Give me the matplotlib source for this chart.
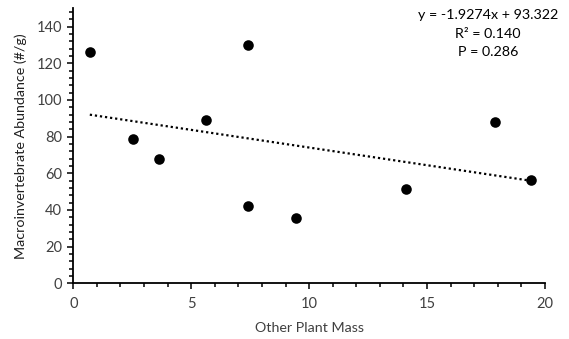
import matplotlib
matplotlib.use("Agg")
import matplotlib.pyplot as plt
import numpy as np
from matplotlib.ticker import MultipleLocator

plt.rcParams['font.family'] = ['Lato', 'DejaVu Sans']

x_vals = [0.70, 2.52, 3.63, 5.61, 7.42, 7.41, 9.43, 14.10, 17.90, 19.42]
y_vals = [126.4, 78.5, 67.6, 89.3, 130.2, 42.3, 35.8, 51.3, 88.0, 56.5]
slope = -1.9274
intercept = 93.322
eq_lines = ["y = -1.9274x + 93.322", "R² = 0.140", "P = 0.286"]
x_label = "Other Plant Mass"
y_label = "Macroinvertebrate Abundance (#/g)"

W, H = 569, 339
fig = plt.figure(figsize=(W/100, H/100), dpi=100)
ax = fig.add_axes([73.3/W, (H-283.3)/H, (545-73.3)/W, (283.3-8.3)/H])

ax.scatter(x_vals, y_vals, s=58, color='black', zorder=3, linewidths=0)
xs = np.array([min(x_vals), max(x_vals)])
ax.plot(xs, slope*xs + intercept, color='black', lw=1.6, linestyle=(0, (1, 1.3)), zorder=2)

ax.set_xlim(0, 20)
ax.set_ylim(0, 150)
ax.xaxis.set_major_locator(MultipleLocator(5))
ax.xaxis.set_minor_locator(MultipleLocator(1))
ax.set_yticks(np.arange(0, 141, 20))
ax.yaxis.set_minor_locator(MultipleLocator(4))
for s in ['top', 'right']:
    ax.spines[s].set_visible(False)
for s in ['left', 'bottom']:
    ax.spines[s].set_linewidth(1.3)
    ax.spines[s].set_color('black')
ax.tick_params(which='major', length=4, width=1.1, color='black', labelsize=10.5, labelcolor='#404040', direction='out')
ax.tick_params(which='minor', length=3, width=1.1, color='black', direction='out')
ax.tick_params(axis='x', pad=6)
ax.tick_params(axis='y', pad=4)

ax.set_xlabel(x_label, fontsize=10.3, color='#404040', labelpad=8)
ax.set_ylabel(y_label, fontsize=10.3, color='#202020', labelpad=7)

for i, t in enumerate(eq_lines):
    fig.text(488/W, 1 - (15 + 18.5*i)/H, t, ha='center', va='center', fontsize=10.3, color='black')

fig.savefig("out.png", dpi=100, facecolor='white')
